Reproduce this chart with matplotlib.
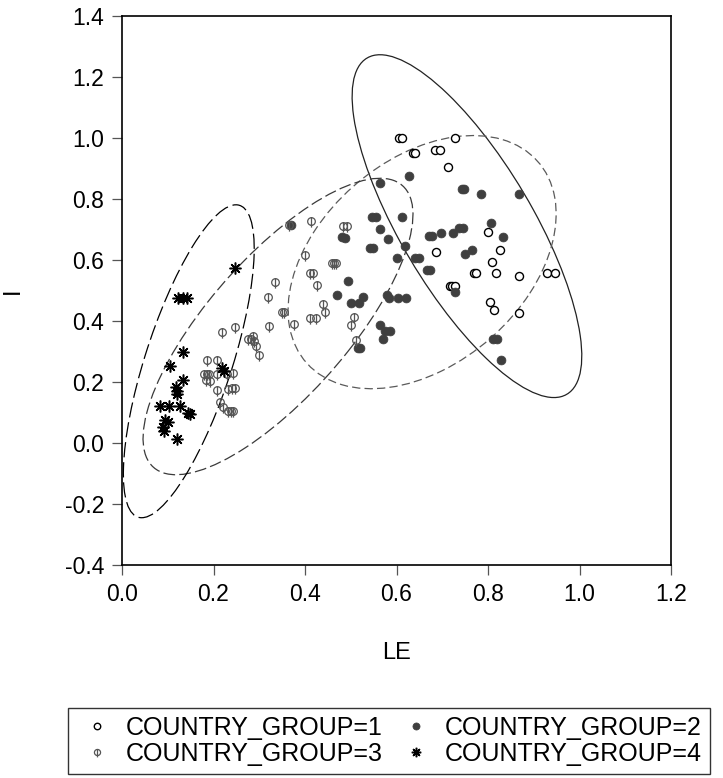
import numpy as np
import matplotlib

matplotlib.use("Agg")
import matplotlib.pyplot as plt
from matplotlib.patches import Ellipse
from matplotlib.path import Path

plt.rcParams["font.family"] = ["Liberation Sans", "DejaVu Sans"]
plt.rcParams["lines.scale_dashes"] = False

# group 1: open circles
g1_x = [0.605, 0.612, 0.637, 0.641, 0.684, 0.695, 0.728, 0.712, 0.799, 0.686, 0.827, 0.809,
        0.817, 0.868, 0.928, 0.946, 0.804, 0.814, 0.868, 0.716, 0.722, 0.728, 0.769, 0.773]
g1_y = [1.000, 1.000, 0.952, 0.952, 0.961, 0.961, 1.000, 0.906, 0.693, 0.627, 0.633, 0.594,
        0.558, 0.549, 0.558, 0.558, 0.462, 0.435, 0.426, 0.516, 0.516, 0.516, 0.556, 0.556]

# group 2: filled circles
g2_x = [0.369, 0.480, 0.487, 0.627, 0.565, 0.744, 0.748, 0.785, 0.868, 0.546, 0.555, 0.611,
        0.564, 0.581, 0.619, 0.541, 0.548, 0.600, 0.640, 0.650, 0.670, 0.677, 0.697, 0.724,
        0.737, 0.745, 0.806, 0.832, 0.766, 0.750, 0.666, 0.673, 0.495, 0.471, 0.500, 0.517,
        0.526, 0.580, 0.584, 0.603, 0.621, 0.564, 0.575, 0.586, 0.570, 0.520, 0.516, 0.728,
        0.810, 0.820, 0.829]
g2_y = [0.714, 0.676, 0.673, 0.875, 0.854, 0.834, 0.834, 0.818, 0.818, 0.742, 0.742, 0.742,
        0.702, 0.669, 0.647, 0.638, 0.638, 0.607, 0.608, 0.608, 0.680, 0.680, 0.690, 0.689,
        0.704, 0.704, 0.721, 0.674, 0.634, 0.620, 0.567, 0.567, 0.532, 0.485, 0.459, 0.459,
        0.480, 0.485, 0.477, 0.475, 0.475, 0.388, 0.368, 0.368, 0.341, 0.313, 0.313, 0.494,
        0.342, 0.342, 0.272]

# group 3: circle with vertical bar
g3_x = [0.366, 0.414, 0.484, 0.491, 0.401, 0.458, 0.463, 0.468, 0.412, 0.418, 0.427, 0.334,
        0.319, 0.349, 0.354, 0.439, 0.444, 0.412, 0.424, 0.321, 0.376, 0.500, 0.508, 0.512,
        0.218, 0.247, 0.276, 0.283, 0.289, 0.293, 0.300, 0.287, 0.185, 0.208, 0.179, 0.185,
        0.191, 0.183, 0.192, 0.208, 0.229, 0.242, 0.208, 0.231, 0.240, 0.246, 0.214, 0.220,
        0.232, 0.238, 0.243]
g3_y = [0.716, 0.729, 0.713, 0.713, 0.615, 0.589, 0.589, 0.589, 0.556, 0.556, 0.517, 0.529,
        0.480, 0.430, 0.430, 0.455, 0.430, 0.409, 0.409, 0.385, 0.390, 0.388, 0.412, 0.339,
        0.363, 0.381, 0.341, 0.341, 0.335, 0.319, 0.290, 0.352, 0.272, 0.272, 0.226, 0.226,
        0.226, 0.207, 0.204, 0.226, 0.226, 0.231, 0.174, 0.177, 0.180, 0.180, 0.133, 0.117,
        0.106, 0.104, 0.104]

# group 4: asterisks
g4_x = [0.247, 0.122, 0.133, 0.142, 0.133, 0.106, 0.134, 0.118, 0.121, 0.120, 0.218, 0.224,
        0.082, 0.103, 0.127, 0.145, 0.148, 0.094, 0.100, 0.090, 0.092, 0.121]
g4_y = [0.574, 0.476, 0.476, 0.476, 0.298, 0.253, 0.207, 0.185, 0.170, 0.161, 0.245, 0.236,
        0.120, 0.120, 0.120, 0.098, 0.095, 0.075, 0.068, 0.051, 0.040, 0.013]

# confidence ellipses: centre, sd in x, sd in y, correlation
ell_cx = [0.754, 0.656, 0.341, 0.146]
ell_cy = [0.711, 0.593, 0.382, 0.268]
ell_sx = [0.251, 0.293, 0.295, 0.143]
ell_sy = [0.562, 0.415, 0.486, 0.513]
ell_r = [-0.757, 0.38, 0.756, 0.72]

labels = ["COUNTRY_GROUP=1", "COUNTRY_GROUP=2", "COUNTRY_GROUP=3", "COUNTRY_GROUP=4"]
x_ticks = [0.0, 0.2, 0.4, 0.6, 0.8, 1.0, 1.2]
y_ticks = [-0.4, -0.2, 0.0, 0.2, 0.4, 0.6, 0.8, 1.0, 1.2, 1.4]

ELL_STYLE = [
    dict(color="#222222", ls="-"),
    dict(color="#5a5a5a", ls=(0, (6, 3))),
    dict(color="#3a3a3a", ls=(0, (8.5, 3))),
    dict(color="#000000", ls=(0, (11, 3.5))),
]

phi = Path.make_compound_path(Path.unit_circle(), Path([[0, 0.95], [0, -1.6]]))

fig = plt.figure(figsize=(7.23, 7.78), dpi=100)
ax = fig.add_axes([122 / 723, 1 - 565 / 778, 549 / 723, 549 / 778])

for cx, cy, sx, sy, r, st in zip(ell_cx, ell_cy, ell_sx, ell_sy, ell_r, ELL_STYLE):
    cov = np.array([[sx * sx, r * sx * sy], [r * sx * sy, sy * sy]])
    vals, vecs = np.linalg.eigh(cov)
    ang = np.degrees(np.arctan2(vecs[1, 1], vecs[0, 1]))
    ax.add_patch(Ellipse((cx, cy), 2 * np.sqrt(vals[1]), 2 * np.sqrt(vals[0]), angle=ang,
                         fill=False, edgecolor=st["color"], linestyle=st["ls"], lw=0.9))

h1, = ax.plot(g1_x, g1_y, "o", ls="none", ms=5.8, mfc="white", mec="black", mew=1.0)
h2, = ax.plot(g2_x, g2_y, "o", ls="none", ms=6.4, mfc="#3f3f3f", mec="#3f3f3f", mew=0.5)
h3, = ax.plot(g3_x, g3_y, marker=phi, ls="none", ms=8.8, mfc="none", mec="#555555", mew=0.9)
h4, = ax.plot(g4_x, g4_y, marker=(8, 2, 0), ls="none", ms=8.5, color="black", mew=1.1)

ax.set_xlim(0, 1.2)
ax.set_ylim(-0.4, 1.4)
ax.set_xticks(x_ticks)
ax.set_yticks(y_ticks)
ax.set_xticklabels([f"{v:.1f}" for v in x_ticks])
ax.set_yticklabels([f"{v:.1f}" for v in y_ticks])
ax.tick_params(direction="out", length=7.5, width=0.9, color="#555555", pad=5.5,
               labelsize=16.5, labelcolor="black")
for s in ax.spines.values():
    s.set_linewidth(1.2)
    s.set_color("black")

ax.set_xlabel("LE", fontsize=17)
ax.set_ylabel("I", fontsize=17)
ax.xaxis.set_label_coords(0.5, -0.140)
ax.yaxis.set_label_coords(-0.178, 0.5)

leg = fig.legend([h1, h3, h2, h4], [labels[0], labels[2], labels[1], labels[3]], ncol=2,
                 loc="upper left", bbox_to_anchor=(68 / 723, 1 - 708 / 778), borderaxespad=0,
                 fontsize=18, frameon=True, fancybox=False, edgecolor="black",
                 borderpad=0.3, handlelength=1.7, handletextpad=0.3, columnspacing=0.5,
                 labelspacing=0.1, markerscale=0.8)
leg.get_frame().set_linewidth(1.0)

fig.savefig("out.png", dpi=100)
